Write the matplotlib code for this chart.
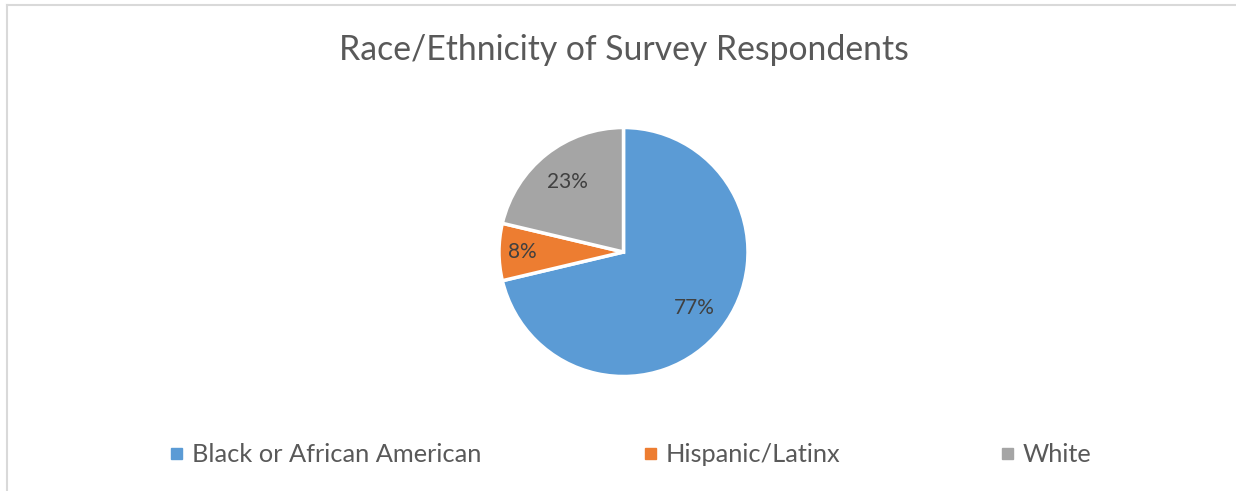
import matplotlib
matplotlib.use("Agg")
import matplotlib.pyplot as plt
from matplotlib.patches import Rectangle
from matplotlib.lines import Line2D
import numpy as np

plt.rcParams['font.family'] = ['Lato', 'DejaVu Sans']

title = "Race/Ethnicity of Survey Respondents"
categories = ["Black or African American", "Hispanic/Latinx", "White"]
values = [77, 8, 23]
colors = ["#5B9BD5", "#ED7D31", "#A5A5A5"]

W, H = 1236, 491
fig = plt.figure(figsize=(W / 100, H / 100), dpi=100)

# chart border (left and top visible)
fig.add_artist(Line2D([6.5 / W, 6.5 / W], [0, 1 - 4.5 / H], color="#D9D9D9", lw=1.5, transform=fig.transFigure))
fig.add_artist(Line2D([6.5 / W, 1], [1 - 4.5 / H, 1 - 4.5 / H], color="#D9D9D9", lw=1.5, transform=fig.transFigure))

fig.text(624 / W, 1 - 50 / H, title, ha="center", va="center", fontsize=24.3, color="#595959")

cx, cy, r = 623.5, 252, 124.5
ax = fig.add_axes([(cx - r) / W, (H - cy - r) / H, 2 * r / W, 2 * r / H])
wedges, _ = ax.pie(values, colors=colors, startangle=90, counterclock=False,
                   wedgeprops=dict(edgecolor="white", linewidth=2.5))
ax.set_xlim(-1, 1)
ax.set_ylim(-1, 1)
ax.set_aspect("equal")
ax.axis("off")

label_dist = [0.72, 0.815, 0.72]
for w, v, d in zip(wedges, values, label_dist):
    th = np.deg2rad((w.theta1 + w.theta2) / 2)
    ax.text(d * np.cos(th), d * np.sin(th), f"{v}%", ha="center", va="center",
            fontsize=15, color="#404040")

# legend
leg_x = [171, 645, 1002]
for x, c, lab in zip(leg_x, colors, categories):
    fig.add_artist(Rectangle((x / W, 1 - 459 / H), 11 / W, 11 / H, color=c, transform=fig.transFigure))
    fig.text((x + 21) / W, 1 - 455 / H, lab, ha="left", va="center", fontsize=18.3, color="#595959")

fig.savefig("out.png", dpi=100, facecolor="white")
